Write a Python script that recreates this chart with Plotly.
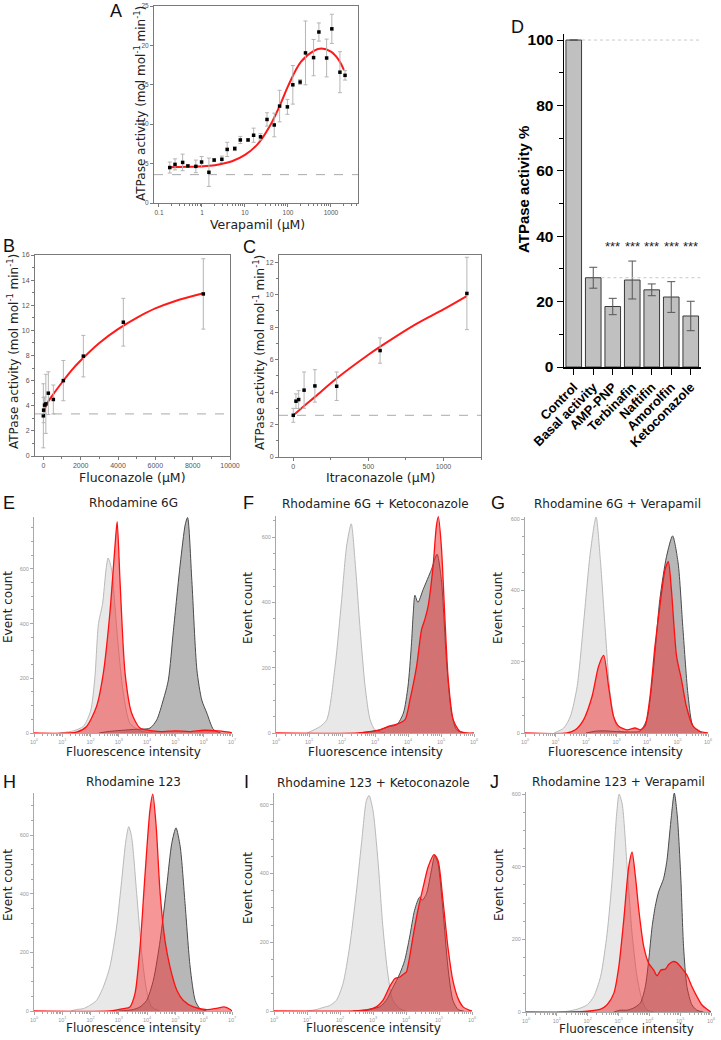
import math
import plotly.graph_objects as go

W, H = 721, 1040

# ---------------- Panel A data (Verapamil) ----------------
A_conc = [0.178, 0.236, 0.355, 0.47, 0.72, 0.98, 1.45, 1.92, 2.9, 3.86, 5.8, 7.8, 11.8, 15.9,
          23, 32.6, 48, 64, 97, 130, 192, 256, 395, 525, 795, 1050, 1620, 2130]
A_act = [4.5, 4.9, 5.15, 4.7, 4.65, 5.2, 3.9, 5.45, 5.55, 6.8, 6.9, 8.0, 8.0, 8.6,
         8.4, 10.6, 9.9, 12.3, 12.2, 15.0, 15.35, 19.05, 18.45, 21.7, 18.4, 22.1, 16.6, 16.2]
A_err = [0.7, 0.7, 1.05, 0.15, 0.8, 0.7, 1.8, 0.2, 0.4, 0.9, 0.25, 0.45, 0.15, 0.9,
         0.4, 0.85, 1.5, 2.0, 0.95, 2.45, 0.3, 4.05, 2.3, 1.15, 2.4, 1.85, 2.6, 0.6]
A_fit_x = [0.178, 0.5, 1, 2, 5, 10, 20, 40, 70, 100, 200, 400, 600, 1000, 1500, 2000]
A_fit_y = [4.55, 4.6, 4.65, 4.8, 5.3, 6.1, 7.5, 10.0, 12.8, 14.8, 17.9, 19.3, 19.6, 19.2, 18.2, 16.9]
A_base = 3.6

# ---------------- Panel B data (Fluconazole) ----------------
B_conc = [0, 17, 67, 134, 268, 536, 1072, 2143, 4286, 8571]
B_act = [3.2, 3.65, 4.05, 4.15, 5.0, 4.5, 6.0, 7.95, 10.65, 12.9]
B_err = [2.55, 1.0, 0.65, 2.35, 1.7, 1.15, 1.6, 1.65, 1.9, 2.8]
B_fit_x = [0, 250, 500, 1000, 1500, 2000, 3000, 4000, 5000, 6000, 7000, 8571]
B_fit_y = [3.5, 4.3, 4.85, 5.85, 6.8, 7.6, 9.0, 10.1, 11.0, 11.75, 12.3, 12.95]
B_base = 3.35

# ---------------- Panel C data (Itraconazole) ----------------
C_conc = [0, 18, 36, 72, 144, 289, 578, 1156]
C_act = [2.57, 3.44, 3.54, 4.12, 4.38, 4.36, 6.56, 10.08]
C_err = [0.43, 0.45, 0.55, 1.12, 1.0, 0.88, 0.78, 2.23]
C_fit_x = [0, 72, 146, 290, 500, 579, 800, 1000, 1155]
C_fit_y = [2.57, 3.15, 3.72, 4.85, 6.3, 6.8, 8.1, 9.1, 9.92]
C_base = 2.57

# ---------------- Panel D data ----------------
D_cats = ["Control", "Basal activity", "AMP-PNP", "Terbinafin", "Naftifin", "Amorolfin", "Ketoconazole"]
D_vals = [100, 27.3, 18.5, 26.6, 23.6, 21.4, 15.6]
D_err = [0, 3.2, 2.5, 5.8, 1.8, 4.7, 4.5]
D_sig = ["", "", "***", "***", "***", "***", "***"]
D_sig_y = 37

# ---------------- Flow cytometry histograms (log10 intensity, counts) ----------------
E_light_x = [0.9, 1.4, 1.75, 2.0, 2.15, 2.28, 2.42, 2.55, 2.62, 2.74, 2.85, 2.92, 3.05, 3.16, 3.39, 3.75, 4.2]
E_light_y = [0, 8, 25, 80, 200, 400, 470, 600, 640, 600, 480, 388, 240, 145, 36, 8, 0]
E_dark_x = [2.3, 2.68, 3.51, 4.1, 4.34, 4.57, 4.75, 4.93, 5.17, 5.35, 5.43, 5.58, 5.76, 5.93, 6.11, 6.35, 6.6]
E_dark_y = [0, 6, 13, 18, 48, 121, 194, 376, 618, 764, 788, 558, 230, 121, 73, 12, 0]
E_red_x = [0, 1.5, 1.86, 2.21, 2.45, 2.68, 2.86, 2.94, 3.04, 3.22, 3.45, 3.75, 4.2, 4.5, 5.0, 5.5, 6.0, 6.5, 6.9, 7.0]
E_red_y = [0, 3, 24, 97, 218, 436, 679, 773, 558, 218, 73, 18, 8, 5, 8, 5, 10, 8, 3, 0]

F_light_x = [0.94, 1.34, 1.54, 1.79, 1.99, 2.14, 2.28, 2.4, 2.55, 2.7, 2.85, 3.0, 3.3]
F_light_y = [0, 20, 41, 204, 409, 573, 641, 521, 317, 143, 41, 10, 0]
F_dark_x = [2.5, 3.15, 3.45, 3.66, 3.86, 4.0, 4.1, 4.16, 4.21, 4.3, 4.46, 4.71, 4.88, 5.01, 5.17, 5.32, 5.47, 5.7]
F_dark_y = [0, 10, 20, 25, 61, 143, 266, 368, 422, 400, 440, 501, 548, 470, 215, 61, 10, 0]
F_red_x = [0, 2.5, 3.1, 3.45, 3.66, 3.91, 4.06, 4.26, 4.41, 4.51, 4.61, 4.76, 4.86, 4.92, 5.01, 5.12, 5.22, 5.37, 5.57, 5.8, 6.0]
F_red_y = [0, 0, 8, 22, 27, 41, 102, 204, 317, 348, 389, 511, 634, 663, 573, 348, 164, 41, 5, 0, 0]

G_light_x = [0.95, 1.27, 1.49, 1.71, 1.92, 2.14, 2.33, 2.47, 2.63, 2.79, 2.96, 3.12, 3.4]
G_light_y = [0, 14, 47, 131, 308, 505, 606, 486, 290, 112, 28, 5, 0]
G_dark_x = [2.0, 2.3, 2.6, 3.0, 3.5, 3.77, 3.99, 4.2, 4.42, 4.64, 4.84, 5.02, 5.18, 5.35, 5.51, 5.8]
G_dark_y = [0, 5, 6, 4, 3, 5, 37, 168, 374, 495, 553, 477, 290, 103, 19, 0]
G_red_x = [0, 1.38, 1.65, 1.92, 2.2, 2.41, 2.58, 2.74, 2.9, 3.07, 3.34, 3.61, 3.77, 3.93, 4.1, 4.26,
           4.42, 4.59, 4.7, 4.8, 4.97, 5.13, 5.29, 5.51, 5.73, 6.0]
G_red_y = [0, 0, 9, 37, 103, 187, 218, 131, 47, 19, 9, 14, 9, 19, 103, 243,
           355, 458, 481, 402, 215, 150, 75, 19, 5, 0]

H_light_x = [1.3, 1.5, 1.74, 1.97, 2.21, 2.45, 2.68, 2.92, 3.1, 3.25, 3.35, 3.45, 3.63, 3.81, 3.98, 4.16, 4.45]
H_light_y = [0, 5, 8, 19, 36, 82, 150, 287, 446, 583, 629, 595, 401, 196, 71, 14, 0]
H_dark_x = [3.0, 3.27, 3.51, 3.75, 3.98, 4.22, 4.46, 4.69, 4.87, 5.02, 5.17, 5.34, 5.52, 5.7, 5.87, 6.1]
H_dark_y = [0, 2, 5, 14, 36, 105, 241, 424, 572, 625, 560, 367, 150, 36, 8, 0]
H_red_x = [0, 2.68, 3.16, 3.39, 3.57, 3.75, 3.92, 4.1, 4.2, 4.32, 4.46, 4.63, 4.81, 5.05, 5.28,
           5.64, 6.11, 6.5, 6.72, 6.94, 7.0]
H_red_y = [0, 0, 8, 14, 59, 219, 458, 686, 740, 629, 401, 241, 150, 71, 36, 14, 5, 10, 14, 5, 0]

I_light_x = [1.0, 1.28, 1.48, 1.69, 1.89, 2.09, 2.29, 2.49, 2.65, 2.8, 2.88, 3.0, 3.15, 3.3, 3.45, 3.6, 3.81, 4.0]
I_light_y = [0, 4, 10, 16, 31, 79, 186, 341, 486, 612, 627, 583, 438, 244, 108, 31, 7, 0]
I_dark_x = [2.39, 2.8, 3.2, 3.4, 3.61, 3.81, 3.96, 4.11, 4.26, 4.41, 4.49, 4.62, 4.77, 4.87, 4.97,
            5.12, 5.27, 5.42, 5.58, 5.75]
I_dark_y = [0, 4, 12, 31, 70, 108, 147, 215, 293, 331, 322, 341, 409, 452, 428, 293, 128, 31, 4, 0]
I_red_x = [0, 2.5, 2.8, 3.1, 3.3, 3.5, 3.66, 3.81, 3.96, 4.01, 4.11, 4.21, 4.36, 4.52, 4.67, 4.85,
           4.97, 5.12, 5.27, 5.42, 5.58, 5.73, 5.93, 6.0]
I_red_y = [0, 0, 2, 12, 31, 70, 94, 99, 110, 113, 157, 215, 293, 360, 419, 455,
           438, 322, 186, 89, 36, 12, 2, 0]

J_light_x = [1.0, 1.34, 1.67, 1.99, 2.2, 2.42, 2.63, 2.8, 2.94, 3.02, 3.12, 3.28, 3.44, 3.6, 3.76, 3.92, 4.15]
J_light_y = [0, 2, 8, 20, 43, 98, 216, 372, 545, 600, 573, 399, 216, 98, 34, 6, 0]
J_dark_x = [2.85, 3.06, 3.28, 3.49, 3.71, 3.87, 3.98, 4.09, 4.19, 4.3, 4.46, 4.57, 4.7, 4.81, 4.91,
            5.02, 5.11, 5.22, 5.38, 5.54, 5.75]
J_dark_y = [0, 5, 5, 11, 25, 70, 143, 235, 290, 331, 367, 417, 527, 603, 537, 372, 180, 70, 20, 5, 0]
J_red_x = [0, 1.45, 1.99, 2.42, 2.63, 2.85, 3.01, 3.17, 3.33, 3.44, 3.55, 3.66, 3.82, 3.98, 4.14,
           4.25, 4.38, 4.52, 4.62, 4.76, 4.89, 5.05, 5.22, 5.38, 5.54, 5.7, 5.86, 6.0]
J_red_y = [0, 0, 2, 8, 20, 52, 125, 253, 399, 440, 372, 280, 180, 134, 116,
           100, 116, 118, 130, 139, 136, 121, 102, 70, 43, 20, 8, 0]

hist_titles = ["Rhodamine 6G", "Rhodamine 6G + Ketoconazole", "Rhodamine 6G + Verapamil",
               "Rhodamine 123", "Rhodamine 123 + Ketoconazole", "Rhodamine 123 + Verapamil"]

# ---------------- helpers ----------------
def dx(a, b):
    return [a / W, b / W]


def dy(top, bottom):
    return [1 - bottom / H, 1 - top / H]


fig = go.Figure()
annotations = []
shapes = []

SANS = "DejaVu Sans"
ARIAL = "Liberation Sans"


def ann(text, x, y, size, family=SANS, color="#222", angle=0, weight="normal"):
    annotations.append(dict(text=text, x=x / W, y=1 - y / H, xref="paper", yref="paper",
                            showarrow=False, xanchor="center", yanchor="middle",
                            textangle=angle, font=dict(size=size, family=family, color=color, weight=weight)))


box_axis = dict(showline=True, mirror=True, linecolor="#7a7a7a", linewidth=1, ticks="outside",
                ticklen=3, tickcolor="#7a7a7a", tickfont=dict(size=6.5, color="#555", family=ARIAL),
                showgrid=False, zeroline=False, automargin=False)

# ---------- Panel A ----------
fig.add_trace(go.Scatter(x=A_fit_x, y=A_fit_y, mode="lines", line=dict(color="#ff1a1a", width=2, shape="spline"),
                         xaxis="x", yaxis="y"))
fig.add_trace(go.Scatter(x=A_conc, y=A_act, mode="markers", marker=dict(color="black", size=3.5, symbol="square"),
                         error_y=dict(type="data", array=A_err, color="#b5b5b5", thickness=1, width=2),
                         xaxis="x", yaxis="y"))
logminor = [d * 10 ** e for e in range(-1, 4) for d in range(2, 10)]
fig.update_layout(
    xaxis=dict(box_axis, domain=dx(154, 358), type="log", range=[-1.116, 3.63], anchor="y",
               tickvals=[0.1, 1, 10, 100, 1000], ticktext=["0.1", "1", "10", "100", "1000"],
               minor=dict(tickvals=logminor, ticks="outside", ticklen=2, tickcolor="#7a7a7a")),
    yaxis=dict(box_axis, domain=dy(6, 203), range=[0, 25], anchor="x", tickvals=[0, 5, 10, 15, 20, 25]),
)
shapes.append(dict(type="line", xref="x domain", yref="y", x0=0, x1=1, y0=A_base, y1=A_base,
                   line=dict(color="#aaaaaa", width=1, dash="dash")))
ann("ATPase activity (mol mol<sup>-1</sup> min<sup>-1</sup>)", 140, 104, 12, angle=-90)
ann("Verapamil (µM)", 257, 224, 12.5)

# ---------- Panel B ----------
fig.add_trace(go.Scatter(x=B_fit_x, y=B_fit_y, mode="lines", line=dict(color="#ff1a1a", width=2, shape="spline"),
                         xaxis="x2", yaxis="y2"))
fig.add_trace(go.Scatter(x=B_conc, y=B_act, mode="markers", marker=dict(color="black", size=3.5, symbol="square"),
                         error_y=dict(type="data", array=B_err, color="#b5b5b5", thickness=1, width=2),
                         xaxis="x2", yaxis="y2"))
fig.update_layout(
    xaxis2=dict(box_axis, domain=dx(35, 230), range=[-446, 10000], anchor="y2",
                tickvals=[0, 2000, 4000, 6000, 8000, 10000],
                ticktext=["0", "2000", "4000", "6000", "8000", "10000"],
                tickfont=dict(size=7, color="#555", family=ARIAL),
                minor=dict(dtick=1000, ticks="outside", ticklen=2, tickcolor="#7a7a7a")),
    yaxis2=dict(box_axis, domain=dy(255, 456), range=[0, 16], anchor="x2", dtick=2,
                tickfont=dict(size=7, color="#555", family=ARIAL),
                minor=dict(dtick=1, ticks="outside", ticklen=2, tickcolor="#7a7a7a")),
)
shapes.append(dict(type="line", xref="x2 domain", yref="y2", x0=0, x1=1, y0=B_base, y1=B_base,
                   line=dict(color="#aaaaaa", width=1, dash="dash")))
ann("ATPase activity (mol mol<sup>-1</sup> min<sup>-1</sup>)", 13, 352, 12, angle=-90)
ann("Fluconazole (µM)", 132, 478, 12.5)

# ---------- Panel C ----------
fig.add_trace(go.Scatter(x=C_fit_x, y=C_fit_y, mode="lines", line=dict(color="#ff1a1a", width=2, shape="spline"),
                         xaxis="x3", yaxis="y3"))
fig.add_trace(go.Scatter(x=C_conc, y=C_act, mode="markers", marker=dict(color="black", size=3.5, symbol="square"),
                         error_y=dict(type="data", array=C_err, color="#b5b5b5", thickness=1, width=2),
                         xaxis="x3", yaxis="y3"))
fig.update_layout(
    xaxis3=dict(box_axis, domain=dx(279, 481), range=[-95, 1250], anchor="y3",
                tickvals=[0, 500, 1000], tickfont=dict(size=7, color="#555", family=ARIAL),
                minor=dict(dtick=250, ticks="outside", ticklen=2, tickcolor="#7a7a7a")),
    yaxis3=dict(box_axis, domain=dy(255, 457), range=[0, 12.45], anchor="x3", dtick=2,
                tickfont=dict(size=7, color="#555", family=ARIAL),
                minor=dict(dtick=1, ticks="outside", ticklen=2, tickcolor="#7a7a7a")),
)
shapes.append(dict(type="line", xref="x3 domain", yref="y3", x0=0, x1=1, y0=C_base, y1=C_base,
                   line=dict(color="#aaaaaa", width=1, dash="dash")))
ann("ATPase activity (mol mol<sup>-1</sup> min<sup>-1</sup>)", 259, 353, 12, angle=-90)
ann("Itraconazole (µM)", 380, 478, 12.5)

# ---------- Panel D ----------
fig.add_trace(go.Bar(x=D_cats, y=D_vals, width=0.8, marker=dict(color="#c0c0c0", line=dict(color="#3a3a3a", width=1)),
                     error_y=dict(type="data", array=D_err, color="#555", thickness=1, width=4),
                     xaxis="x4", yaxis="y4"))
fig.update_layout(
    xaxis4=dict(domain=dx(564, 700.5), type="category", categoryarray=D_cats, range=[-0.5, 6.5], anchor="y4",
                showline=True, linecolor="black", linewidth=1.5, ticks="outside", ticklen=6, tickcolor="black",
                tickangle=-45, tickfont=dict(size=13, family=ARIAL, color="black", weight="bold"),
                showgrid=False, zeroline=False, automargin=False),
    yaxis4=dict(domain=dy(33.5, 367), range=[0, 102], anchor="x4", tickvals=[0, 20, 40, 60, 80, 100],
                showline=True, linecolor="black", linewidth=1.5, ticks="outside", ticklen=6, tickcolor="black",
                tickfont=dict(size=15.5, family=ARIAL, color="black", weight="bold"),
                minor=dict(dtick=10, ticks="outside", ticklen=4, tickcolor="black"),
                showgrid=False, zeroline=False, automargin=False),
)
shapes.append(dict(type="line", xref="x4", yref="y4", x0=0.42, x1=6.5, y0=D_vals[0], y1=D_vals[0],
                   line=dict(color="#c8c8c8", width=1, dash="dot")))
shapes.append(dict(type="line", xref="x4", yref="y4", x0=1.42, x1=6.5, y0=D_vals[1], y1=D_vals[1],
                   line=dict(color="#c8c8c8", width=1, dash="dot")))
for cat, s in zip(D_cats, D_sig):
    if s:
        annotations.append(dict(text=s, x=cat, y=D_sig_y, xref="x4", yref="y4", showarrow=False,
                                xanchor="center", yanchor="middle",
                                font=dict(size=13, family=ARIAL, color="#222")))
ann("ATPase activity %", 523, 190, 15, family=ARIAL, color="black", angle=-90, weight="bold")

# ---------- Histograms ----------
hist_specs = [
    ("5", (34, 232), (517, 733), 7, 790, (E_light_x, E_light_y, E_dark_x, E_dark_y, E_red_x, E_red_y)),
    ("6", (276, 474), (516, 733), 6, 665, (F_light_x, F_light_y, F_dark_x, F_dark_y, F_red_x, F_red_y)),
    ("7", (525, 708), (517, 733), 6, 606, (G_light_x, G_light_y, G_dark_x, G_dark_y, G_red_x, G_red_y)),
    ("8", (34, 232), (793, 1011), 7, 744, (H_light_x, H_light_y, H_dark_x, H_dark_y, H_red_x, H_red_y)),
    ("9", (274, 472), (793, 1011), 6, 634, (I_light_x, I_light_y, I_dark_x, I_dark_y, I_red_x, I_red_y)),
    ("10", (526, 711), (792, 1012), 6, 606, (J_light_x, J_light_y, J_dark_x, J_dark_y, J_red_x, J_red_y)),
]
styles = [
    dict(fill="rgba(200,200,200,0.42)", line="rgba(185,185,185,1)", w=1),
    dict(fill="rgba(95,95,95,0.45)", line="#4a4a4a", w=1),
    dict(fill="rgba(238,45,45,0.5)", line="#ff1010", w=1.3),
]
for name, (x0, x1), (t, b), xmax, ymax, data in hist_specs:
    for k in range(3):
        xs, ys = data[2 * k], data[2 * k + 1]
        st = styles[k]
        fig.add_trace(go.Scatter(x=xs, y=ys, mode="lines", fill="tozeroy", fillcolor=st["fill"],
                                 line=dict(color=st["line"], width=st["w"], shape="spline", smoothing=0.7),
                                 xaxis="x" + name, yaxis="y" + name))
    minor_x = [n + math.log10(d) for n in range(0, xmax) for d in range(2, 10)]
    fig.layout["xaxis" + name] = dict(
        domain=dx(x0, x1), range=[0, xmax], anchor="y" + name,
        tickvals=list(range(0, xmax + 1)), ticktext=["10<sup>%d</sup>" % n for n in range(0, xmax + 1)],
        tickfont=dict(size=5.5, color="#999", family=ARIAL),
        showline=True, linecolor="#a8a8a8", linewidth=1, ticks="outside", ticklen=3, tickcolor="#a8a8a8",
        minor=dict(tickvals=minor_x, ticks="outside", ticklen=2, tickcolor="#a8a8a8"),
        showgrid=False, zeroline=False, automargin=False)
    fig.layout["yaxis" + name] = dict(
        domain=dy(t, b), range=[0, ymax], anchor="x" + name, tickvals=[0, 200, 400, 600],
        tickfont=dict(size=5.5, color="#999", family=ARIAL),
        showline=True, linecolor="#a8a8a8", linewidth=1, ticks="outside", ticklen=3, tickcolor="#a8a8a8",
        minor=dict(dtick=50, ticks="outside", ticklen=2, tickcolor="#a8a8a8"),
        showgrid=False, zeroline=False, automargin=False)

title_pos = [(133, 503), (375, 504), (617, 504), (133, 782), (373, 783), (618, 782)]
for txt, (x, y) in zip(hist_titles, title_pos):
    ann(txt, x, y, 12)
for x, y in [(133, 752), (375, 752), (615, 752), (133, 1028), (373, 1028), (626, 1029)]:
    ann("Fluorescence intensity", x, y, 12)
for x, y in [(8, 607), (248, 608), (498, 608), (8, 885), (248, 888), (499, 885)]:
    ann("Event count", x, y, 12, angle=-90)

for letter, (x, y) in zip("ABCDEFGHIJ", [(116, 11), (9, 246), (249, 247), (517, 27), (9, 503), (248, 503),
                                          (498, 503), (9, 782), (246, 782), (494, 782)]):
    ann(letter, x, y, 18, family=ARIAL, color="#111")

fig.update_layout(width=W, height=H, margin=dict(l=0, r=0, t=0, b=0, autoexpand=False), showlegend=False,
                  plot_bgcolor="white", paper_bgcolor="white", annotations=annotations, shapes=shapes,
                  font=dict(family=SANS), hovermode=False)
fig.write_html("out.html", config={"displayModeBar": False, "staticPlot": True},
               post_script="document.body.style.margin='0';document.body.style.padding='0';"
                           "document.documentElement.style.overflow='hidden';")
